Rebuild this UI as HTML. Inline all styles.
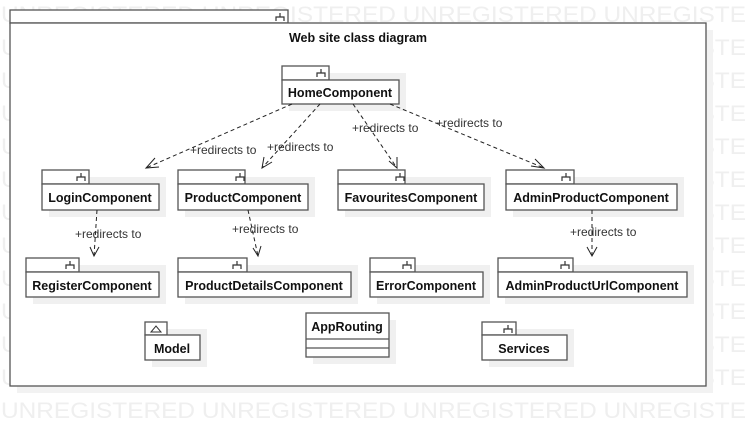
<!DOCTYPE html>
<html><head><meta charset="utf-8"><style>
html,body{margin:0;padding:0;background:#fff;width:746px;height:426px;overflow:hidden}
svg text{font-family:"Liberation Sans",Arial,sans-serif}
</style></head><body>
<svg width="746" height="426" viewBox="0 0 746 426" xmlns="http://www.w3.org/2000/svg">
<defs>
<g id="pk"><path d="M-4 6V2H4V6M0 2V-2" fill="none" stroke="#333" stroke-width="1.2"/></g>
</defs>
<g fill="#efefef" font-size="22">
<text x="1" y="22" textLength="745" lengthAdjust="spacingAndGlyphs">UNREGISTERED UNREGISTERED UNREGISTERED UNREGISTE</text>
<text x="1" y="55" textLength="745" lengthAdjust="spacingAndGlyphs">UNREGISTERED UNREGISTERED UNREGISTERED UNREGISTE</text>
<text x="1" y="88" textLength="745" lengthAdjust="spacingAndGlyphs">UNREGISTERED UNREGISTERED UNREGISTERED UNREGISTE</text>
<text x="1" y="121" textLength="745" lengthAdjust="spacingAndGlyphs">UNREGISTERED UNREGISTERED UNREGISTERED UNREGISTE</text>
<text x="1" y="154" textLength="745" lengthAdjust="spacingAndGlyphs">UNREGISTERED UNREGISTERED UNREGISTERED UNREGISTE</text>
<text x="1" y="187" textLength="745" lengthAdjust="spacingAndGlyphs">UNREGISTERED UNREGISTERED UNREGISTERED UNREGISTE</text>
<text x="1" y="220" textLength="745" lengthAdjust="spacingAndGlyphs">UNREGISTERED UNREGISTERED UNREGISTERED UNREGISTE</text>
<text x="1" y="253" textLength="745" lengthAdjust="spacingAndGlyphs">UNREGISTERED UNREGISTERED UNREGISTERED UNREGISTE</text>
<text x="1" y="286" textLength="745" lengthAdjust="spacingAndGlyphs">UNREGISTERED UNREGISTERED UNREGISTERED UNREGISTE</text>
<text x="1" y="319" textLength="745" lengthAdjust="spacingAndGlyphs">UNREGISTERED UNREGISTERED UNREGISTERED UNREGISTE</text>
<text x="1" y="352" textLength="745" lengthAdjust="spacingAndGlyphs">UNREGISTERED UNREGISTERED UNREGISTERED UNREGISTE</text>
<text x="1" y="385" textLength="745" lengthAdjust="spacingAndGlyphs">UNREGISTERED UNREGISTERED UNREGISTERED UNREGISTE</text>
<text x="1" y="418" textLength="745" lengthAdjust="spacingAndGlyphs">UNREGISTERED UNREGISTERED UNREGISTERED UNREGISTE</text>
</g>
<!-- frame -->
<rect x="17" y="30" width="696" height="363" fill="#f2f2f2"/>
<rect x="10" y="10" width="278" height="13" fill="#fff" stroke="#555" stroke-width="1.3"/>
<use href="#pk" x="280" y="15"/>
<rect x="10" y="23" width="696" height="363" fill="#fff" stroke="#555" stroke-width="1.3"/>
<text x="358" y="42" font-size="12.5" font-weight="bold" text-anchor="middle" fill="#111">Web site class diagram</text>

<g stroke="#555" stroke-width="1.3" fill="#fff">
<g fill="#f0f0f0" stroke="none">
<rect x="289" y="73" width="117" height="38"/>
<rect x="49" y="177" width="117" height="40"/>
<rect x="185" y="177" width="130" height="40"/>
<rect x="345" y="177" width="146" height="40"/>
<rect x="513" y="177" width="171" height="40"/>
<rect x="33" y="265" width="133" height="39"/>
<rect x="185" y="265" width="173" height="39"/>
<rect x="377" y="265" width="113" height="39"/>
<rect x="505" y="265" width="189" height="39"/>
<rect x="152" y="329" width="55" height="38"/>
<rect x="313" y="320" width="83" height="44"/>
<rect x="489" y="329" width="85" height="38"/>
</g>
<rect x="282" y="66" width="47" height="14"/><rect x="282" y="80" width="117" height="24"/>
<rect x="42" y="170" width="47" height="14"/><rect x="42" y="184" width="117" height="26"/>
<rect x="178" y="170" width="67" height="14"/><rect x="178" y="184" width="130" height="26"/>
<rect x="338" y="170" width="67" height="14"/><rect x="338" y="184" width="146" height="26"/>
<rect x="506" y="170" width="68" height="14"/><rect x="506" y="184" width="171" height="26"/>
<rect x="26" y="258" width="53" height="14"/><rect x="26" y="272" width="133" height="25"/>
<rect x="178" y="258" width="69" height="14"/><rect x="178" y="272" width="173" height="25"/>
<rect x="370" y="258" width="45" height="14"/><rect x="370" y="272" width="113" height="25"/>
<rect x="498" y="258" width="75" height="14"/><rect x="498" y="272" width="189" height="25"/>
<rect x="145" y="322" width="22" height="13"/><rect x="145" y="335" width="55" height="25"/>
<rect x="306" y="313" width="83" height="44"/><line x1="306" y1="339" x2="389" y2="339"/><line x1="306" y1="348" x2="389" y2="348"/>
<rect x="482" y="322" width="34" height="13"/><rect x="482" y="335" width="85" height="25"/>
</g>
<use href="#pk" x="321" y="71"/>
<use href="#pk" x="81" y="175"/>
<use href="#pk" x="240" y="175"/>
<use href="#pk" x="400" y="175"/>
<use href="#pk" x="566" y="175"/>
<use href="#pk" x="70" y="263"/>
<use href="#pk" x="237" y="263"/>
<use href="#pk" x="407" y="263"/>
<use href="#pk" x="565" y="263"/>
<use href="#pk" x="508" y="327"/>
<path d="M151 332L156 326L161 332Z" fill="none" stroke="#333" stroke-width="1"/>

<g font-size="12.5" font-weight="bold" text-anchor="middle" fill="#111">
<text x="340" y="97">HomeComponent</text>
<text x="100" y="202">LoginComponent</text>
<text x="243" y="202">ProductComponent</text>
<text x="411" y="202">FavouritesComponent</text>
<text x="591" y="202">AdminProductComponent</text>
<text x="92" y="290">RegisterComponent</text>
<text x="264" y="290">ProductDetailsComponent</text>
<text x="426" y="290">ErrorComponent</text>
<text x="592" y="290">AdminProductUrlComponent</text>
<text x="172" y="353">Model</text>
<text x="347" y="331">AppRouting</text>
<text x="524" y="353">Services</text>
</g>

<g stroke="#222" stroke-width="1" fill="none" stroke-dasharray="4,3">
<path d="M292 104L146 168"/>
<path d="M320 104L262 168"/>
<path d="M353 104L397 168"/>
<path d="M390 104L544 168"/>
<path d="M97 210L94 256"/>
<path d="M248 210L258 256"/>
<path d="M592 210L592 256"/>
</g>
<g stroke="#222" stroke-width="1" fill="none">
<path d="M155 158L146 168L159 167"/>
<path d="M264 157L262 168L272 162"/>
<path d="M389 161L397 168L397 157"/>
<path d="M531 166L544 168L535 159"/>
<path d="M90 247L94 256L99 247"/>
<path d="M253 248L258 256L261 246"/>
<path d="M587 247L592 256L597 247"/>
</g>
<g font-size="12" fill="#333">
<text x="190" y="154">+redirects to</text>
<text x="267" y="151">+redirects to</text>
<text x="352" y="132">+redirects to</text>
<text x="436" y="127">+redirects to</text>
<text x="75" y="238">+redirects to</text>
<text x="232" y="233">+redirects to</text>
<text x="570" y="236">+redirects to</text>
</g>
</svg>
</body></html>
